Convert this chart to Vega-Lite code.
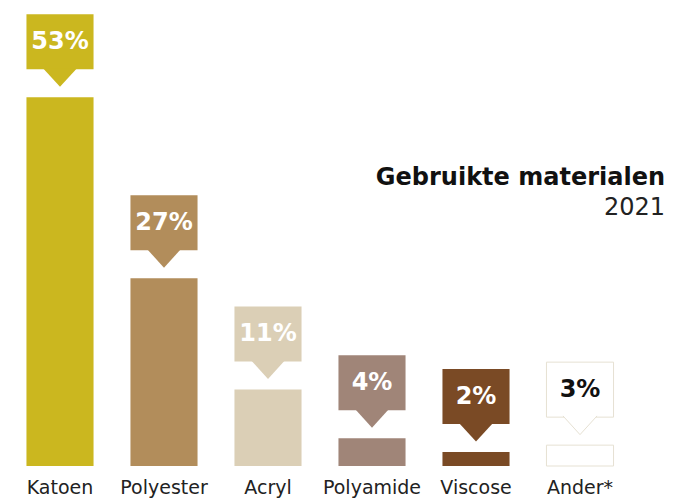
{
  "$schema": "https://vega.github.io/schema/vega-lite/v6.json",
  "autosize": "none",
  "width": 624,
  "height": 466,
  "padding": {"left": 8, "right": 47, "top": 0, "bottom": 35},
  "background": "white",
  "title": {
    "text": "Gebruikte materialen",
    "subtitle": "2021",
    "anchor": "end",
    "frame": "group",
    "font": "DejaVu Sans",
    "fontWeight": "bold",
    "fontSize": 24,
    "color": "#111111",
    "subtitleFont": "DejaVu Sans",
    "subtitleFontSize": 24,
    "subtitleColor": "#222222",
    "subtitlePadding": 6,
    "dx": 33,
    "dy": 224
  },
  "data": {
    "values": [
      {"materiaal": "Katoen", "pct": 53, "label": "53%"},
      {"materiaal": "Polyester", "pct": 27, "label": "27%"},
      {"materiaal": "Acryl", "pct": 11, "label": "11%"},
      {"materiaal": "Polyamide", "pct": 4, "label": "4%"},
      {"materiaal": "Viscose", "pct": 2, "label": "2%"},
      {"materiaal": "Ander*", "pct": 3, "label": "3%"}
    ]
  },
  "encoding": {
    "x": {
      "field": "materiaal",
      "type": "nominal",
      "sort": null,
      "scale": {"paddingInner": 0.355, "paddingOuter": 0.1775},
      "axis": {
        "title": null,
        "domain": false,
        "ticks": false,
        "labelAngle": 0,
        "labelFont": "DejaVu Sans",
        "labelFontSize": 19,
        "labelColor": "#222222",
        "labelPadding": 12
      }
    },
    "y": {
      "field": "pct",
      "type": "quantitative",
      "scale": {"domain": [0, 67], "nice": false},
      "axis": null
    },
    "color": {
      "field": "materiaal",
      "type": "nominal",
      "legend": null,
      "scale": {
        "domain": ["Katoen", "Polyester", "Acryl", "Polyamide", "Viscose", "Ander*"],
        "range": ["#cbb71f", "#b28d5b", "#dbcfb6", "#a08578", "#7a4a25", "#ffffff"]
      }
    }
  },
  "layer": [
    {
      "mark": {"type": "bar", "opacity": 1, "strokeWidth": 1},
      "encoding": {
        "stroke": {
          "condition": {"test": "datum.materiaal === 'Ander*'", "value": "#e6e1d3"},
          "value": "transparent"
        }
      }
    },
    {
      "mark": {"type": "bar", "opacity": 1, "yOffset": -83, "y2Offset": -28, "strokeWidth": 1},
      "encoding": {
        "y2": {"field": "pct"},
        "stroke": {
          "condition": {"test": "datum.materiaal === 'Ander*'", "value": "#e6e1d3"},
          "value": "transparent"
        }
      }
    },
    {
      "mark": {
        "type": "point",
        "shape": "M-1,-0.6L0,0.5L1,-0.6",
        "size": 1156,
        "filled": true,
        "opacity": 1,
        "yOffset": -19,
        "strokeWidth": 1
      },
      "encoding": {
        "stroke": {
          "condition": {"test": "datum.materiaal === 'Ander*'", "value": "#e6e1d3"},
          "value": "transparent"
        }
      }
    },
    {
      "mark": {
        "type": "text",
        "font": "DejaVu Sans",
        "fontWeight": "bold",
        "fontSize": 24,
        "yOffset": -55,
        "baseline": "middle",
        "align": "center"
      },
      "encoding": {
        "text": {"field": "label"},
        "color": {
          "condition": {"test": "datum.materiaal === 'Ander*'", "value": "#111111"},
          "value": "#ffffff"
        }
      }
    }
  ],
  "config": {"view": {"stroke": null}}
}
